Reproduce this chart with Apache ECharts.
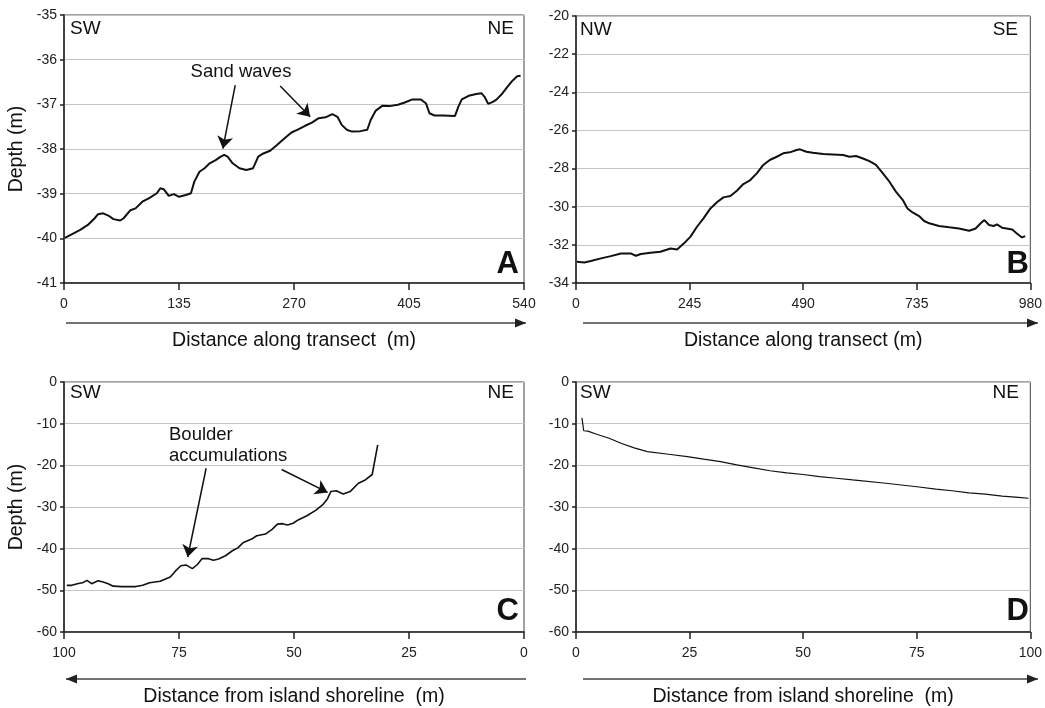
<!DOCTYPE html>
<html>
<head>
<meta charset="utf-8">
<script src="https://cdn.jsdelivr.net/npm/echarts@6/dist/echarts.min.js"></script>
<style>
  html, body { margin: 0; padding: 0; background: #fff; }
  #chart { width: 1045px; height: 708px; }
</style>
</head>
<body>
<div id="chart"></div>
<script>
// panel A: SW-NE transect, sand waves
const aDist = [1, 9, 19, 28, 36, 40, 46, 52, 58, 66, 70, 78, 84, 92, 100, 109, 113, 117, 123, 129, 135, 143, 149, 153, 159, 165, 171, 178, 184, 188, 192, 198, 206, 214, 222, 228, 234, 242, 250, 259, 267, 275, 283, 291, 299, 307, 315, 321, 326, 332, 338, 348, 356, 360, 366, 374, 382, 392, 400, 409, 419, 425, 429, 435, 445, 459, 463, 467, 475, 484, 490, 494, 498, 504, 508, 514, 520, 526, 532, 536]
const aDepth = [-39.99, -39.91, -39.81, -39.70, -39.55, -39.46, -39.44, -39.49, -39.57, -39.60, -39.55, -39.37, -39.33, -39.18, -39.10, -38.99, -38.88, -38.90, -39.05, -39.01, -39.07, -39.03, -38.99, -38.73, -38.51, -38.43, -38.32, -38.25, -38.17, -38.13, -38.17, -38.32, -38.43, -38.47, -38.43, -38.17, -38.10, -38.04, -37.91, -37.76, -37.63, -37.56, -37.48, -37.41, -37.31, -37.29, -37.22, -37.28, -37.46, -37.57, -37.61, -37.60, -37.57, -37.35, -37.14, -37.03, -37.04, -37.01, -36.96, -36.89, -36.89, -36.98, -37.20, -37.25, -37.25, -37.26, -37.05, -36.89, -36.81, -36.77, -36.75, -36.84, -36.99, -36.94, -36.89, -36.77, -36.62, -36.48, -36.37, -36.36]

// panel B: NW-SE transect
const bDist = [2, 18, 32, 54, 75, 97, 118, 129, 140, 161, 182, 204, 218, 233, 247, 261, 275, 290, 304, 318, 333, 347, 361, 376, 390, 404, 418, 433, 447, 461, 476, 483, 497, 511, 533, 554, 576, 590, 604, 619, 633, 647, 662, 676, 690, 705, 715, 726, 740, 751, 762, 783, 805, 826, 848, 862, 873, 881, 891, 901, 908, 919, 941, 951, 962, 969]
const bDepth = [-32.88, -32.92, -32.85, -32.71, -32.59, -32.45, -32.45, -32.57, -32.48, -32.41, -32.36, -32.19, -32.24, -31.92, -31.57, -31.05, -30.61, -30.09, -29.77, -29.51, -29.44, -29.16, -28.81, -28.60, -28.25, -27.81, -27.55, -27.38, -27.20, -27.15, -27.03, -26.99, -27.12, -27.17, -27.24, -27.26, -27.29, -27.38, -27.34, -27.47, -27.61, -27.81, -28.25, -28.69, -29.21, -29.65, -30.09, -30.30, -30.49, -30.75, -30.87, -31.01, -31.08, -31.14, -31.26, -31.14, -30.87, -30.70, -30.96, -31.01, -30.93, -31.10, -31.19, -31.40, -31.61, -31.54]

// panel C: distance from shoreline (reversed axis), boulders
const cDist = [99.4, 98.3, 97.1, 96, 95, 94, 92.6, 91.5, 90.4, 89.3, 87.4, 84.4, 82.9, 81.4, 79.1, 76.9, 75.8, 74.6, 73.5, 72.1, 71, 70, 68.6, 67.5, 66.4, 64.9, 63.4, 62.2, 61.1, 59.2, 58.1, 56.2, 54.7, 53.6, 52.5, 51.4, 50.2, 49.1, 47.2, 45.3, 43.8, 42.7, 42, 40.8, 39.3, 37.8, 36, 34.5, 33, 31.8]
const cDepth = [-48.8, -48.8, -48.4, -48.2, -47.6, -48.4, -47.7, -48.0, -48.4, -49.0, -49.1, -49.1, -48.8, -48.2, -47.8, -46.8, -45.4, -44.1, -43.9, -44.8, -43.8, -42.4, -42.4, -42.8, -42.5, -41.7, -40.5, -39.8, -38.6, -37.7, -36.9, -36.5, -35.3, -34.1, -34.0, -34.3, -33.9, -33.1, -32.1, -30.8, -29.5, -28.0, -26.3, -26.1, -26.9, -26.3, -24.3, -23.5, -22.2, -15.1]

// panel D
const dDist = [1.3, 1.7, 2.6, 4.7, 7.3, 9.9, 12.8, 15.7, 20.8, 24.5, 28.1, 31.8, 35.4, 39.1, 42.7, 46.4, 50, 53.6, 57.3, 60.9, 68.2, 75.5, 79.2, 82.8, 86.5, 90.1, 93.8, 97.4, 99.6]
const dDepth = [-8.6, -11.7, -11.8, -12.6, -13.5, -14.7, -15.8, -16.7, -17.4, -17.9, -18.5, -19.1, -19.9, -20.6, -21.3, -21.8, -22.2, -22.7, -23.1, -23.5, -24.3, -25.2, -25.7, -26.1, -26.6, -26.9, -27.4, -27.7, -27.9]

const aTicks = { min: 0, max: 540, interval: 135 }
const bTicks = { min: 0, max: 980, interval: 245 }
const cdTicks = { min: 0, max: 100, interval: 25 }

const FONT = "'Liberation Sans', Arial, sans-serif"
const chart = echarts.init(document.getElementById('chart'))

const zip = (xs, ys) => xs.map((x, i) => [x, ys[i]])

const grids = [
  { left: 64, top: 15, width: 460, height: 268 },
  { left: 576, top: 16, width: 456, height: 267 },
  { left: 64, top: 382, width: 460, height: 251 },
  { left: 576, top: 382, width: 456, height: 251 }
].map(g => Object.assign(g, { show: true, borderColor: '#444', borderWidth: 1 }))

function xAx (idx, t, name, gap, inverse) {
  return {
    type: 'value',
    gridIndex: idx,
    min: t.min,
    max: t.max,
    interval: t.interval,
    inverse: !!inverse,
    name: name,
    nameLocation: 'middle',
    nameGap: gap,
    nameTextStyle: { fontFamily: FONT, fontSize: 19.5, color: '#111' },
    axisLine: { onZero: false, lineStyle: { color: '#222', width: 1.5 } },
    axisTick: { show: true, length: 7, lineStyle: { color: '#222', width: 1.5 } },
    axisLabel: { fontFamily: FONT, fontSize: 14, color: '#222', margin: 14 },
    splitLine: { show: false }
  }
}

function yAx (idx, min, max, interval, name) {
  return {
    type: 'value',
    gridIndex: idx,
    min: min,
    max: max,
    interval: interval,
    name: name || '',
    nameLocation: 'middle',
    nameGap: 37,
    nameTextStyle: { fontFamily: FONT, fontSize: 19.5, color: '#111' },
    axisLine: { show: true, onZero: false, lineStyle: { color: '#222', width: 1.5 } },
    axisTick: { show: true, length: 4, lineStyle: { color: '#222', width: 1.5 } },
    axisLabel: { fontFamily: FONT, fontSize: 14, color: '#222', margin: 7 },
    splitLine: { show: true, lineStyle: { color: '#c4c4c4', width: 1 } }
  }
}

function arrowLine (from, to) {
  return [{ coord: from }, { coord: to }]
}

const mlStyle = {
  silent: true,
  symbol: ['none', 'arrow'],
  symbolSize: 12,
  label: { show: false },
  lineStyle: { color: '#111', width: 1.5, type: 'solid' },
  emphasis: { disabled: true },
  animation: false
}

function txt (x, y, text, opts) {
  return {
    type: 'text',
    x: x,
    y: y,
    silent: true,
    style: Object.assign({
      text: text,
      font: '19px ' + FONT,
      fill: '#111',
      align: 'left',
      verticalAlign: 'middle'
    }, opts || {})
  }
}

function hArrow (x1, x2, y, dir) {
  // dir: 1 -> arrowhead on right, -1 -> on left
  const tip = dir > 0 ? x2 : x1
  const base = tip - dir * 11
  return [
    { type: 'line', silent: true, shape: { x1: x1, y1: y, x2: x2, y2: y }, style: { stroke: '#444', lineWidth: 1.5 } },
    { type: 'polygon', silent: true, shape: { points: [[tip, y], [base, y - 4.5], [base, y + 4.5]] }, style: { fill: '#222' } }
  ]
}

const option = {
  animation: false,
  backgroundColor: '#fff',
  grid: grids,
  xAxis: [
    xAx(0, aTicks, 'Distance along transect  (m)', 48),
    xAx(1, bTicks, 'Distance along transect (m)', 48),
    xAx(2, cdTicks, 'Distance from island shoreline  (m)', 55, true),
    xAx(3, cdTicks, 'Distance from island shoreline  (m)', 55)
  ],
  yAxis: [
    yAx(0, -41, -35, 1, 'Depth (m)'),
    yAx(1, -34, -20, 2),
    yAx(2, -60, 0, 10, 'Depth (m)'),
    yAx(3, -60, 0, 10)
  ],
  series: [
    {
      type: 'line', xAxisIndex: 0, yAxisIndex: 0, data: zip(aDist, aDepth),
      showSymbol: false, lineStyle: { color: '#111', width: 2 },
      markLine: Object.assign({
        data: [
          arrowLine([201, -36.57], [186.5, -37.99]),
          arrowLine([253.8, -36.59], [289, -37.28])
        ]
      }, mlStyle)
    },
    {
      type: 'line', xAxisIndex: 1, yAxisIndex: 1, data: zip(bDist, bDepth),
      showSymbol: false, lineStyle: { color: '#111', width: 2 }
    },
    {
      type: 'line', xAxisIndex: 2, yAxisIndex: 2, data: zip(cDist, cDepth),
      showSymbol: false, lineStyle: { color: '#111', width: 1.6 },
      markLine: Object.assign({
        data: [
          arrowLine([69.1, -20.7], [73.1, -42.0]),
          arrowLine([52.7, -21.0], [42.7, -26.5])
        ]
      }, mlStyle)
    },
    {
      type: 'line', xAxisIndex: 3, yAxisIndex: 3, data: zip(dDist, dDepth),
      showSymbol: false, lineStyle: { color: '#111', width: 1.2 }
    }
  ],
  graphic: [
    txt(70, 29, 'SW'),
    txt(514, 29, 'NE', { align: 'right' }),
    txt(241, 72, 'Sand waves', { align: 'center', font: '18.5px ' + FONT }),
    txt(519, 264, 'A', { align: 'right', font: 'bold 31px ' + FONT }),

    txt(580, 30, 'NW'),
    txt(1018, 30, 'SE', { align: 'right' }),
    txt(1029, 264, 'B', { align: 'right', font: 'bold 31px ' + FONT }),

    txt(70, 393, 'SW'),
    txt(514, 393, 'NE', { align: 'right' }),
    txt(169, 435, 'Boulder', { font: '18.5px ' + FONT }),
    txt(169, 456, 'accumulations', { font: '18.5px ' + FONT }),
    txt(519, 611, 'C', { align: 'right', font: 'bold 31px ' + FONT }),

    txt(580, 393, 'SW'),
    txt(1019, 393, 'NE', { align: 'right' }),
    txt(1029, 611, 'D', { align: 'right', font: 'bold 31px ' + FONT })
  ]
    .concat(hArrow(66, 526, 323, 1))
    .concat(hArrow(583, 1038, 323, 1))
    .concat(hArrow(66, 526, 679, -1))
    .concat(hArrow(583, 1038, 679, 1))
}

chart.setOption(option)
</script>
</body>
</html>
